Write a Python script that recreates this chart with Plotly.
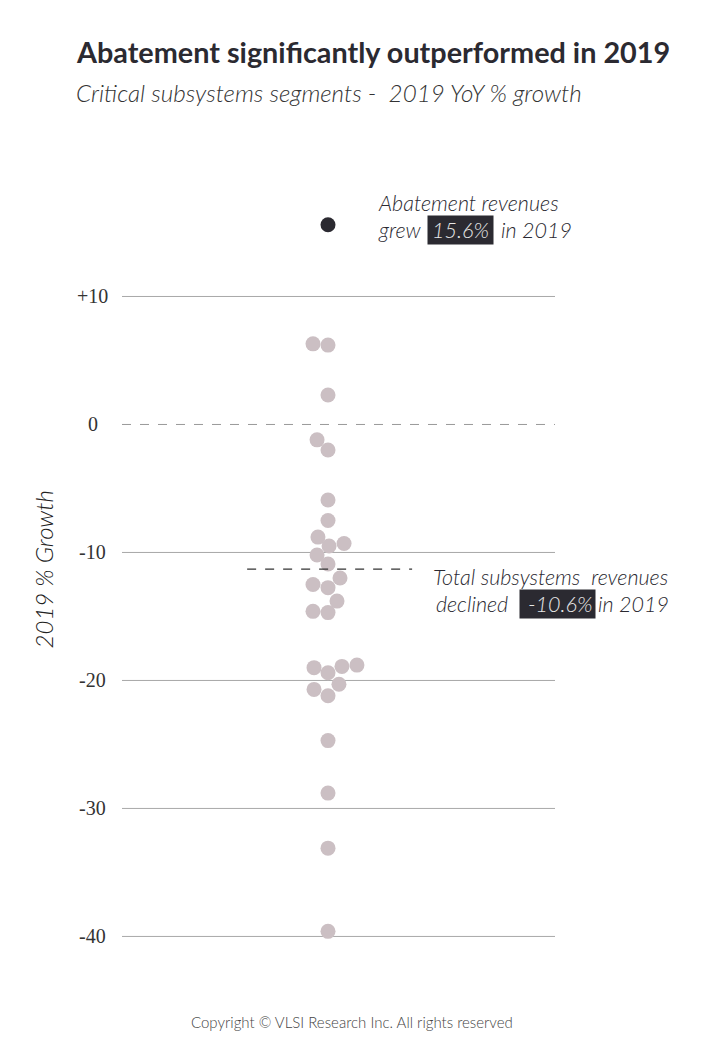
import plotly.graph_objects as go

# 2019 YoY % growth per critical subsystem segment
growth = [6.3, 6.2, 2.3, -1.2, -2.0, -5.9, -7.5, -8.8, -9.3, -9.5,
          -10.2, -10.9, -12.0, -12.5, -12.75, -13.8, -14.6, -14.7,
          -18.8, -18.9, -19.0, -19.4, -20.3, -20.7, -21.2,
          -24.7, -28.8, -33.1, -39.6]
# beeswarm slot of each dot, in dot diameters from the column centre
swarm = [-1.0, 0, 0, -0.73, 0, 0, 0, -0.67, 1.07, 0.07,
         -0.73, 0, 0.8, -1.0, 0, 0.6, -1.0, 0,
         1.93, 0.93, -0.93, 0, 0.73, -0.93, 0,
         0, 0, 0, 0]
abatement = 15.6
total_line = -11.3          # where the "total subsystems" dash sits
total_label = "-10.6%"
grid_vals = [10, -10, -20, -30, -40]
tick_vals = [10, 0, -10, -20, -30, -40]
tick_text = ["+10", "0", "-10", "-20", "-30", "-40"]

SANS = "Lato"
SERIF = "Liberation Serif"
DARK = "#2b2a31"

fig = go.Figure()
fig.add_trace(go.Scatter(
    x=swarm, y=growth, mode="markers",
    marker=dict(size=15, color="#cbbfc3", line=dict(width=0)),
    hoverinfo="y", cliponaxis=False))
fig.add_trace(go.Scatter(
    x=[0], y=[abatement], mode="markers",
    marker=dict(size=15, color=DARK, line=dict(width=0)),
    hoverinfo="y", cliponaxis=False))

# grid lines and dashed zero line
for v in grid_vals:
    fig.add_shape(type="line", xref="paper", yref="y", x0=0, x1=1, y0=v, y1=v,
                  line=dict(color="#a8a8a8", width=1), layer="below")
fig.add_shape(type="line", xref="paper", yref="y", x0=0, x1=1, y0=0, y1=0,
              line=dict(color="#9a9a9a", width=1, dash="dash"), layer="below")
# total subsystems marker line
fig.add_shape(type="line", xref="paper", yref="y", x0=0.289, x1=0.67,
              y0=total_line, y1=total_line,
              line=dict(color="#333333", width=1.3, dash="dash"))

ann = []
# tick labels, centred like the original
for v, t in zip(tick_vals, tick_text):
    ann.append(dict(x=-0.067, xref="paper", y=v, yref="y", text=t,
                    showarrow=False, xanchor="center", yanchor="middle",
                    font=dict(family=SERIF, size=20, color="#333333")))

ann += [
    dict(x=-0.111, y=1.164, xref="paper", yref="paper", xanchor="left", yanchor="middle",
         text="<b>Abatement significantly outperformed in 2019</b>",
         showarrow=False, font=dict(family=SANS, size=28.8, color=DARK)),
    dict(x=-0.111, y=1.112, xref="paper", yref="paper", xanchor="left", yanchor="middle",
         text="Critical subsystems segments -  2019 YoY % growth",
         showarrow=False,
         font=dict(family=SANS, size=24.2, color="#333333", style="italic", weight=300)),
    dict(x=-0.182, y=0.501, xref="paper", yref="paper", textangle=-90,
         xanchor="center", yanchor="middle",
         text="2019 % Growth", showarrow=False,
         font=dict(family=SANS, size=24, color="#222222", style="italic", weight=300)),
    dict(x=0.531, y=-0.0795, xref="paper", yref="paper", xanchor="center", yanchor="middle",
         text="Copyright © VLSI Research Inc. All rights reserved", showarrow=False,
         font=dict(family=SANS, size=15, color="#444444", weight=300)),
]

note = dict(family=SANS, size=21.5, color="#2b2a31", style="italic", weight=300)
box = dict(family=SANS, size=21.5, color="#e6e6e6", style="italic", weight=300)
ann += [
    dict(x=0.587, y=0.9705, xref="paper", yref="paper", xanchor="left",
         text="Abatement revenues", showarrow=False, font=note),
    dict(x=0.587, y=0.936, xref="paper", yref="paper", xanchor="left",
         text="grew", showarrow=False, font=note),
    dict(x=0.781, y=0.936, xref="paper", yref="paper", xanchor="center",
         text=f"{abatement}%", showarrow=False, font=box,
         bgcolor=DARK, width=63, borderpad=1),
    dict(x=0.871, y=0.936, xref="paper", yref="paper", xanchor="left",
         text="in 2019", showarrow=False, font=note),
    dict(x=0.714, y=0.491, xref="paper", yref="paper", xanchor="left",
         text="Total subsystems\u00a0 revenues", showarrow=False, font=note),
    dict(x=0.721, y=0.4564, xref="paper", yref="paper", xanchor="left",
         text="declined", showarrow=False, font=note),
    dict(x=1.006, y=0.4564, xref="paper", yref="paper", xanchor="center",
         text=" " + total_label, showarrow=False, font=box,
         bgcolor=DARK, width=73, borderpad=1),
    dict(x=1.095, y=0.4564, xref="paper", yref="paper", xanchor="left",
         text="in 2019", showarrow=False, font=note),
]
for a in ann:
    a.setdefault("yanchor", "middle")

# page has an 8px body margin, so the figure is shrunk and shifted to match
fig.update_layout(
    width=691, height=1023,
    margin=dict(l=114, r=144, t=172, b=71),
    paper_bgcolor="white", plot_bgcolor="white",
    showlegend=False,
    annotations=ann,
    xaxis=dict(range=[-13.73, 15.13], visible=False, fixedrange=True),
    yaxis=dict(range=[-41.84, 19.10], showgrid=False, zeroline=False,
               showticklabels=False, fixedrange=True),
)

fig.write_html("out.html")
